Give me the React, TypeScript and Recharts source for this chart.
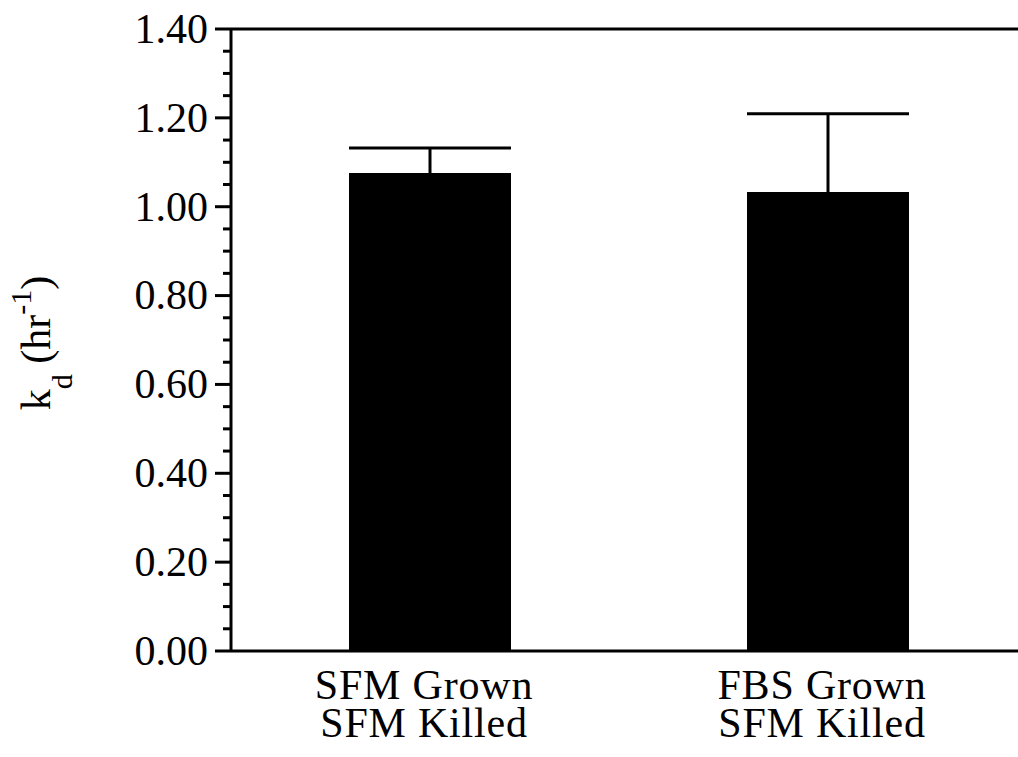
import React from 'react';
import {
  BarChart,
  Bar,
  XAxis,
  YAxis,
  ErrorBar,
  ReferenceLine,
} from 'recharts';

// treatment groups, death rate constant and its error
const groups = ['SFM Grown|SFM Killed', 'FBS Grown|SFM Killed'];
const kd = [1.076, 1.033];
const kdErr = [0.056, 0.176];

// ticks every 0.05, labelled every 0.20
const yTicks = Array.from({ length: 29 }, (_, i) => Math.round(i * 5) / 100);

const data = groups.map((g, i) => ({ group: g, kd: kd[i], err: kdErr[i] }));

const FONT = '"Liberation Serif", "Times New Roman", serif';
const CHART_W = 1040;
const CHART_H = 757;
const AXIS_X = 231;
const PLOT_BOTTOM = 651;

interface TickProps {
  x?: number;
  y?: number;
  payload?: { value: string | number };
}

const YTick: React.FC<TickProps> = ({ y, payload }) => {
  if (y === undefined || !payload) return null;
  const v = Number(payload.value);
  const major = Math.round(v * 100) % 20 === 0;
  return (
    <g>
      <line
        x1={AXIS_X - (major ? 16 : 8)}
        x2={AXIS_X}
        y1={y}
        y2={y}
        stroke="#000"
        strokeWidth={3}
      />
      {major && (
        <text
          x={AXIS_X - 23}
          y={y}
          dy="0.33em"
          textAnchor="end"
          fontFamily={FONT}
          fontSize={42}
          fill="#000"
        >
          {v.toFixed(2)}
        </text>
      )}
    </g>
  );
};

const XTick: React.FC<TickProps> = ({ x, payload }) => {
  if (x === undefined || !payload) return null;
  const lines = String(payload.value).split('|');
  return (
    <text
      textAnchor="middle"
      fontFamily={FONT}
      fontSize={42}
      letterSpacing={0.8}
      fill="#000"
    >
      {lines.map((l, i) => (
        <tspan key={i} x={x - 6} y={699 + i * 38}>
          {l}
        </tspan>
      ))}
    </text>
  );
};

const YLabel = () => (
  <text
    x={50}
    y={343}
    transform="rotate(-90 50 343)"
    textAnchor="middle"
    fontFamily={FONT}
    fontSize={42}
    fill="#000"
  >
    k
    <tspan fontSize={30} dy={22}>
      d
    </tspan>
    <tspan dy={-22}> (hr</tspan>
    <tspan fontSize={30} dy={-19}>
      -1
    </tspan>
    <tspan dy={19}>)</tspan>
  </text>
);

export default function App() {
  return (
    <div
      style={{
        position: 'absolute',
        left: 0,
        top: 0,
        width: 1018,
        height: CHART_H,
        overflow: 'hidden',
        background: '#fff',
      }}
    >
      <BarChart
        width={CHART_W}
        height={CHART_H}
        data={data}
        margin={{ top: 29, right: 13, left: 0, bottom: 0 }}
        barCategoryGap={118}
      >
        <XAxis
          dataKey="group"
          height={CHART_H - PLOT_BOTTOM}
          axisLine={{ stroke: '#000', strokeWidth: 3 }}
          tickLine={false}
          tick={<XTick />}
          interval={0}
        />
        <YAxis
          width={AXIS_X}
          domain={[0, 1.4]}
          ticks={yTicks}
          interval={0}
          axisLine={{ stroke: '#000', strokeWidth: 3 }}
          tickLine={false}
          tick={<YTick />}
          label={<YLabel />}
        />
        <ReferenceLine y={1.4} stroke="#000" strokeWidth={3} />
        <Bar dataKey="kd" fill="#000" isAnimationActive={false}>
          <ErrorBar
            dataKey="err"
            width={81}
            stroke="#000"
            strokeWidth={3}
            isAnimationActive={false}
          />
        </Bar>
      </BarChart>
    </div>
  );
}
